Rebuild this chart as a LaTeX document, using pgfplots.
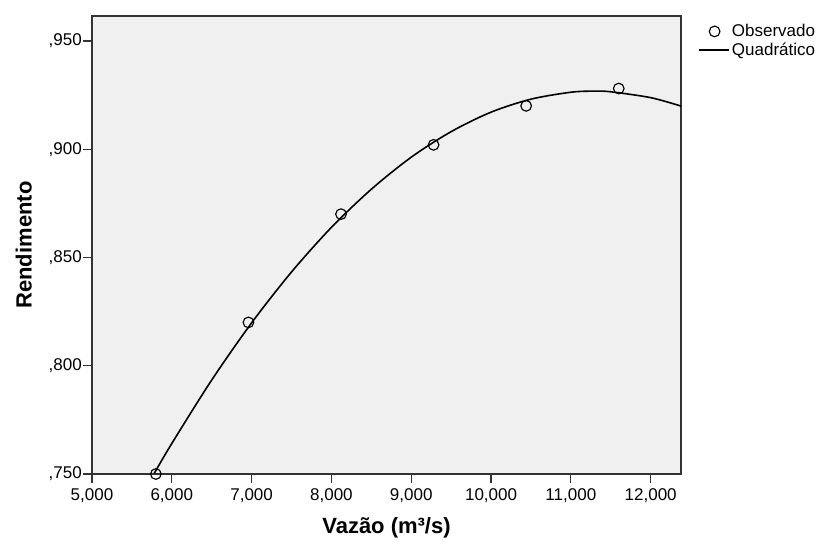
\documentclass[border=0pt]{standalone}
\usepackage{fontspec}
\setmainfont{Liberation Sans}
\usepackage{pgfplots}
\pgfplotsset{compat=1.18}
\definecolor{plotbg}{HTML}{F0F0F0}
\definecolor{framec}{HTML}{333333}

\begin{document}
\begin{tikzpicture}
\begin{axis}[
    scale only axis,
    width=441.75pt, height=343.5pt,
    xmin=5000, xmax=12380,
    ymin=0.75, ymax=0.9615,
    axis background/.style={fill=plotbg},
    axis line style={framec, line width=0.9pt},
    tick pos=left,
    tick align=outside,
    major tick length=6.5pt,
    tick style={framec, line width=0.9pt},
    scaled x ticks=false,
    scaled y ticks=false,
    xtick={5000,6000,7000,8000,9000,10000,11000,12000},
    xticklabels={{5,000},{6,000},{7,000},{8,000},{9,000},{10,000},{11,000},{12,000}},
    ytick={0.75,0.8,0.85,0.9,0.95},
    yticklabels={{,750},{,800},{,850},{,900},{,950}},
    ticklabel style={font=\fontsize{12.75}{15}\selectfont},
    xticklabel style={yshift=-1pt},
    yticklabel style={inner sep=1pt},
    xlabel={\textbf{Vazão (m³/s)}},
    ylabel={\textbf{Rendimento}},
    label style={font=\fontsize{16.5}{19}\selectfont},
    xlabel style={yshift=-4pt},
    ylabel style={yshift=8pt},
    legend style={at={(1,1)}, anchor=north west, xshift=12.5pt, yshift=-4.5pt,
        draw=none, fill=none, inner sep=0pt, row sep=0pt,
        font=\fontsize{12.75}{15}\selectfont,
        nodes={inner sep=1.5pt}},
    legend cell align=left,
]

% observed values
\addplot[only marks, mark=o, mark size=4pt, mark options={black, line width=0.85pt},
    legend image code/.code={\draw[black, line width=0.85pt, mark=o, mark size=4pt] plot coordinates {(12pt,0pt)};}]
coordinates {
(5800,0.750)(6960,0.820)(8120,0.870)(9280,0.902)(10440,0.920)(11600,0.928)
};
\addlegendentry{Observado}

% quadratic fit line
\addplot[black, line width=1.2pt, smooth,
    legend image code/.code={\draw[black, line width=1pt] (0pt,0pt) -- (23pt,0pt);}]
coordinates {
(5780,0.7503)(6000,0.7641)(6500,0.7934)(7000,0.8198)(7500,0.8433)(8000,0.8639)
(8500,0.8815)(9000,0.8963)(9500,0.9081)(10000,0.9171)(10500,0.9231)(11000,0.9263)
(11290,0.9268)(11500,0.9265)(12000,0.9238)(12380,0.9199)
};
\addlegendentry{Quadrático}

\end{axis}
\pgfresetboundingbox
\path (current axis.south west) ++(-69pt,-52.5pt) coordinate (bl);
\path (current axis.north east) ++(105pt,12pt) coordinate (tr);
\path[use as bounding box] (bl) rectangle (tr);
\end{tikzpicture}
\end{document}
